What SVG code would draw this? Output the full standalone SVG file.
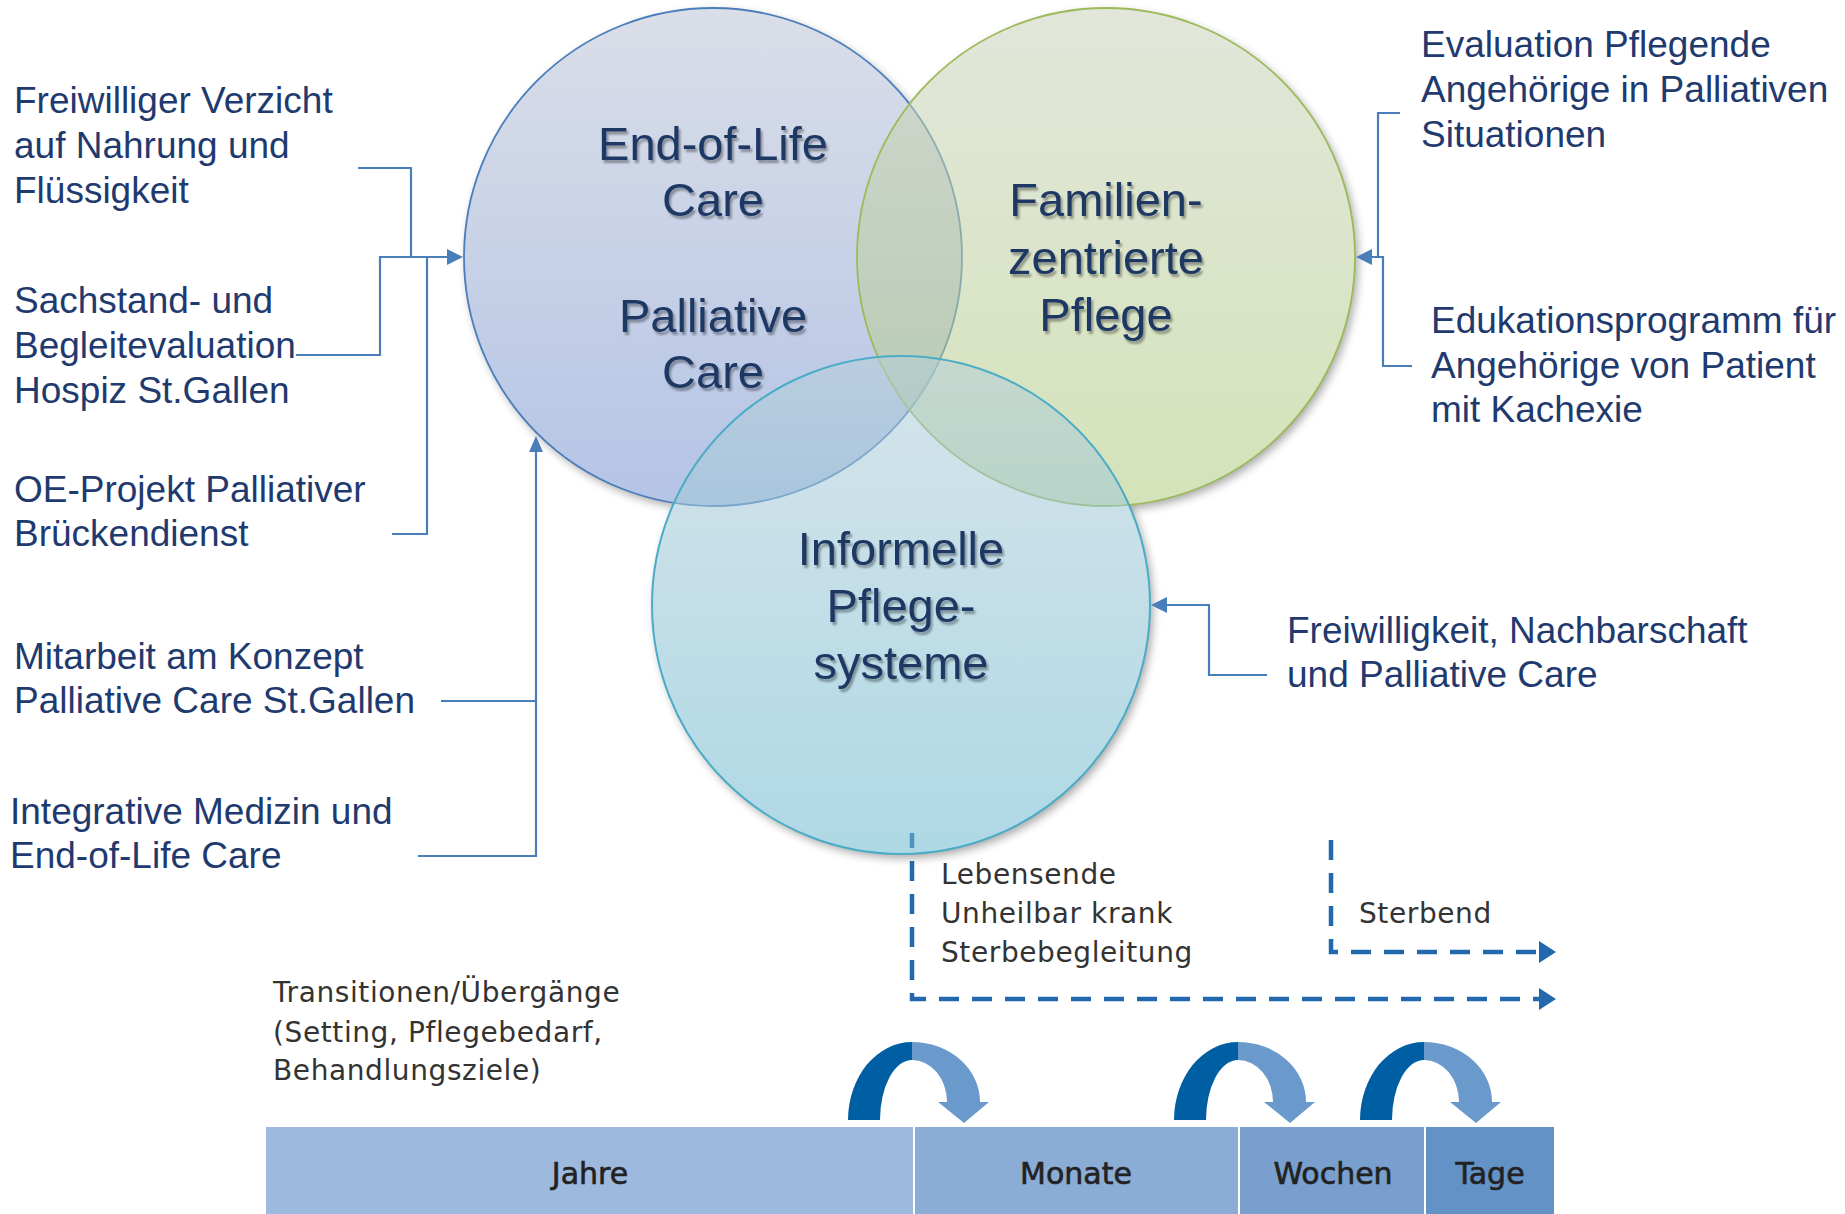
<svg xmlns="http://www.w3.org/2000/svg" width="1845" height="1214" viewBox="0 0 1845 1214">
<style>
.lbl{font-family:"Liberation Sans",Arial,sans-serif;font-size:37px;fill:#1F3A6E}
.ctx{font-family:"Liberation Sans",Arial,sans-serif;font-size:47px;fill:#1F3864;text-anchor:middle}
.tl{font-family:"DejaVu Sans",Verdana,sans-serif;font-size:28px;fill:#333333;letter-spacing:0.6px}
.bar{font-family:"DejaVu Sans",Verdana,sans-serif;font-size:30px;fill:#222222;stroke:#222222;stroke-width:0.6;text-anchor:middle}
.con{fill:none;stroke:#4A7EBB;stroke-width:2.2}
.ah{fill:#4A7EBB}
.dash{fill:none;stroke:#2268AD;stroke-width:4.5;stroke-dasharray:20 13}
.dah{fill:#2268AD}
.dk{fill:#005FA3}
.lt{fill:#6A9ACB}
</style>
<defs>
<linearGradient id="g1" x1="0" y1="0" x2="0" y2="1">
<stop offset="0" stop-color="#BCC3D5"/><stop offset="1" stop-color="#7794D1"/>
</linearGradient>
<linearGradient id="g2" x1="0" y1="0" x2="0" y2="1">
<stop offset="0" stop-color="#CAD2BC"/><stop offset="1" stop-color="#B1CC80"/>
</linearGradient>
<linearGradient id="g3" x1="0" y1="0" x2="0" y2="1">
<stop offset="0" stop-color="#B5CED9"/><stop offset="1" stop-color="#6CB8D0"/>
</linearGradient>
<filter id="blur" x="-20%" y="-20%" width="140%" height="140%">
<feGaussianBlur stdDeviation="5"/>
</filter>
<filter id="ts" x="-10%" y="-20%" width="120%" height="150%">
<feGaussianBlur in="SourceAlpha" stdDeviation="1.3"/>
<feOffset dx="2" dy="2.5" result="o"/>
<feFlood flood-color="#000" flood-opacity="0.35"/>
<feComposite in2="o" operator="in"/>
<feMerge><feMergeNode/><feMergeNode in="SourceGraphic"/></feMerge>
</filter>
<g id="jump">
<path class="dk" d="M0,0 A64,78 0 0 1 64,-78 L64,-60 A32,60 0 0 0 32,0 Z"/>
<path class="lt" d="M64,-78 A68,60 0 0 1 132,-18 L141,-18 L116,3 L90,-18 L99,-18 A35,42 0 0 0 64,-60 Z"/>
</g>
</defs>
<rect width="1845" height="1214" fill="#FFFFFF"/>

<g id="circle-backing">
<g filter="url(#blur)" opacity="0.35">
<circle cx="716" cy="261" r="249" fill="#000"/>
<circle cx="1109" cy="261" r="249" fill="#000"/>
<circle cx="904" cy="609" r="249" fill="#000"/>
</g>
<circle cx="713" cy="257" r="249" fill="#FFF"/>
<circle cx="1106" cy="257" r="249" fill="#FFF"/>
<circle cx="901" cy="605" r="249" fill="#FFF"/>
</g>

<g id="timeline-dashes">
<path class="dash" stroke-dashoffset="5" d="M912,833 V999 H1542"/>
<polygon class="dah" points="1539,988 1556,999 1539,1010"/>
<path class="dash" d="M1331,840 V952 H1542"/>
<polygon class="dah" points="1539,941 1556,952 1539,963"/>
</g>

<g id="node-eol-palliative">
<circle cx="713" cy="257" r="249" fill="url(#g1)" fill-opacity="0.55" stroke="#4A7EBB" stroke-width="1.8"/>
<g filter="url(#ts)">
<text class="ctx" x="713" y="160">End-of-Life</text>
<text class="ctx" x="713" y="216">Care</text>
<text class="ctx" x="713" y="332">Palliative</text>
<text class="ctx" x="713" y="388">Care</text>
</g>
</g>

<g id="node-familien">
<circle cx="1106" cy="257" r="249" fill="url(#g2)" fill-opacity="0.55" stroke="#9BBB59" stroke-width="1.8"/>
<g filter="url(#ts)">
<text class="ctx" x="1106" y="216">Familien-</text>
<text class="ctx" x="1106" y="274">zentrierte</text>
<text class="ctx" x="1106" y="331">Pflege</text>
</g>
</g>

<g id="node-informelle">
<circle cx="901" cy="605" r="249" fill="url(#g3)" fill-opacity="0.55" stroke="#4BACC6" stroke-width="2"/>
<g filter="url(#ts)">
<text class="ctx" x="901" y="565">Informelle</text>
<text class="ctx" x="901" y="622">Pflege-</text>
<text class="ctx" x="901" y="679">systeme</text>
</g>
</g>

<g id="connectors">
<path class="con" d="M358,168 H411 V257"/>
<path class="con" d="M296,355 H380 V257 H449"/>
<path class="con" d="M392,534 H427 V257"/>
<polygon class="ah" points="447,249 463,257 447,265"/>
<path class="con" d="M441,701 H536"/>
<path class="con" d="M418,856 H536 V450"/>
<polygon class="ah" points="529,452 536,436 543,452"/>
<path class="con" d="M1400,113 H1378 V257"/>
<path class="con" d="M1412,366 H1383 V257 H1370"/>
<polygon class="ah" points="1372,249 1356,257 1372,265"/>
<path class="con" d="M1267,675 H1209 V605 H1165"/>
<polygon class="ah" points="1167,597 1151,605 1167,613"/>
</g>

<g id="label-verzicht">
<text class="lbl" x="14" y="113">Freiwilliger Verzicht</text>
<text class="lbl" x="14" y="158">auf Nahrung und</text>
<text class="lbl" x="14" y="203">Flüssigkeit</text>
</g>
<g id="label-sachstand">
<text class="lbl" x="14" y="313">Sachstand- und</text>
<text class="lbl" x="14" y="358">Begleitevaluation</text>
<text class="lbl" x="14" y="403">Hospiz St.Gallen</text>
</g>
<g id="label-oe">
<text class="lbl" x="14" y="502">OE-Projekt Palliativer</text>
<text class="lbl" x="14" y="546">Brückendienst</text>
</g>
<g id="label-mitarbeit">
<text class="lbl" x="14" y="669">Mitarbeit am Konzept</text>
<text class="lbl" x="14" y="713">Palliative Care St.Gallen</text>
</g>
<g id="label-integrative">
<text class="lbl" x="10" y="824">Integrative Medizin und</text>
<text class="lbl" x="10" y="868">End-of-Life Care</text>
</g>
<g id="label-evaluation">
<text class="lbl" x="1421" y="57">Evaluation Pflegende</text>
<text class="lbl" x="1421" y="102">Angehörige in Palliativen</text>
<text class="lbl" x="1421" y="147">Situationen</text>
</g>
<g id="label-edukation">
<text class="lbl" x="1431" y="333">Edukationsprogramm für</text>
<text class="lbl" x="1431" y="378">Angehörige von Patient</text>
<text class="lbl" x="1431" y="422">mit Kachexie</text>
</g>
<g id="label-freiwilligkeit">
<text class="lbl" x="1287" y="643">Freiwilligkeit, Nachbarschaft</text>
<text class="lbl" x="1287" y="687">und Palliative Care</text>
</g>

<g id="timeline-labels">
<text class="tl" x="941" y="884">Lebensende</text>
<text class="tl" x="941" y="923">Unheilbar krank</text>
<text class="tl" x="941" y="962">Sterbebegleitung</text>
<text class="tl" x="1359" y="923">Sterbend</text>
<text class="tl" x="273" y="1002">Transitionen/Übergänge</text>
<text class="tl" x="273" y="1042">(Setting, Pflegebedarf,</text>
<text class="tl" x="273" y="1080">Behandlungsziele)</text>
</g>

<g id="transition-arrows">
<use href="#jump" x="848" y="1120"/>
<use href="#jump" x="1174" y="1120"/>
<use href="#jump" x="1360" y="1120"/>
</g>

<g id="timeline-bar">
<rect x="266" y="1127" width="647" height="87" fill="#9DB9DD"/>
<rect x="915" y="1127" width="323" height="87" fill="#8AACD5"/>
<rect x="1240" y="1127" width="184" height="87" fill="#789FCE"/>
<rect x="1426" y="1127" width="128" height="87" fill="#6393C6"/>
<text class="bar" x="590" y="1184">Jahre</text>
<text class="bar" x="1076" y="1184">Monate</text>
<text class="bar" x="1333" y="1184">Wochen</text>
<text class="bar" x="1490" y="1184">Tage</text>
</g>
</svg>
